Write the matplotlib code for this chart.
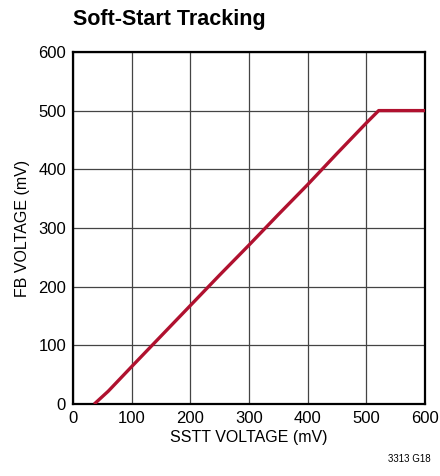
import matplotlib.pyplot as plt

plt.rcParams['font.family'] = ['Liberation Sans', 'DejaVu Sans']

# SSTT voltage (mV) vs FB voltage (mV)
sstt = [36, 60, 100, 150, 200, 250, 300, 350, 400, 450, 500, 521, 600]
fb = [0, 22, 64, 116, 168, 220, 271, 323, 374, 427, 479, 500, 500]

fig = plt.figure(figsize=(4.4, 4.76), dpi=100)
ax = fig.add_axes([0.166, 0.151, 0.800, 0.740])
ax.plot(sstt, fb, color='#b0112f', lw=2.4, solid_capstyle='butt', zorder=3)
ax.set_xlim(0, 600)
ax.set_ylim(0, 600)
ax.set_xticks(range(0, 601, 100))
ax.set_yticks(range(0, 601, 100))
ax.grid(True, color='#444444', lw=0.9)
for s in ax.spines.values():
    s.set_linewidth(1.6)
ax.tick_params(length=0, labelsize=12, pad=5)
ax.set_xlabel('SSTT VOLTAGE (mV)', fontsize=11.5, labelpad=3)
ax.set_ylabel('FB VOLTAGE (mV)', fontsize=11.5, labelpad=6)
fig.text(0.166, 0.958, 'Soft-Start Tracking', fontsize=15.5, fontweight='bold', va='center')
fig.text(0.930, 0.035, '3313 G18', fontsize=7, ha='center', va='center')
fig.savefig('out.png', dpi=100)
